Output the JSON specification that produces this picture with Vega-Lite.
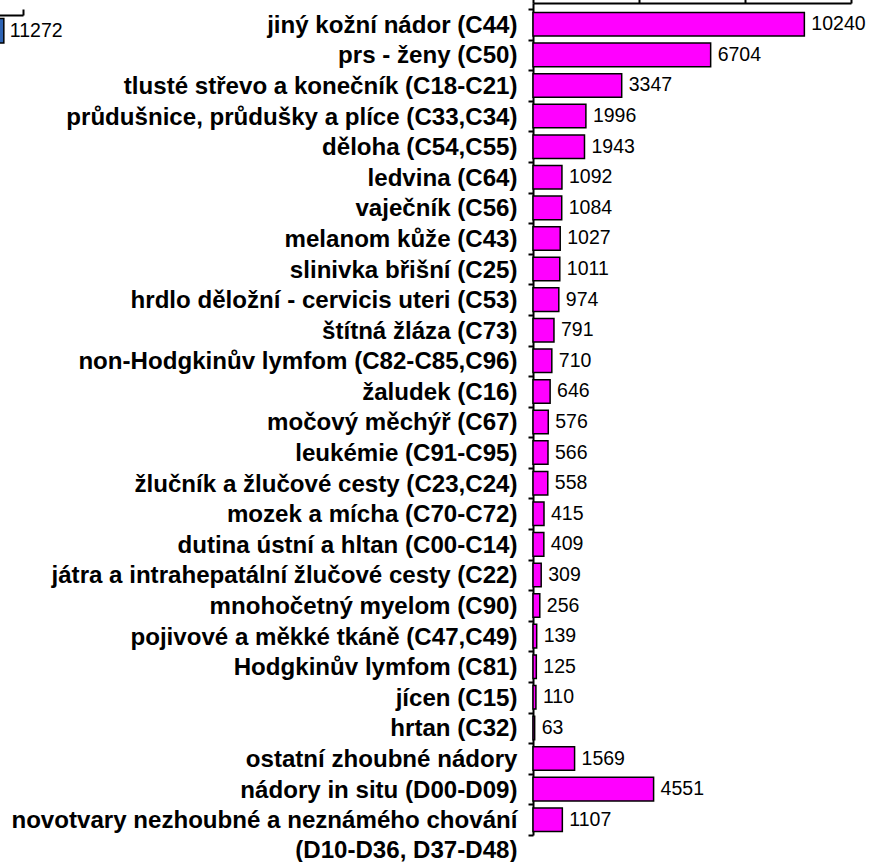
{
  "$schema": "https://vega.github.io/schema/vega-lite/v6.json",
  "autosize": {"type": "none"},
  "padding": {"left": 533, "top": 3, "right": 18, "bottom": 27},
  "width": 318,
  "height": 832,
  "background": "white",
  "config": {"view": {"stroke": null}, "font": "Liberation Sans"},
  "encoding": {
    "y": {
      "field": "label",
      "type": "nominal",
      "sort": null,
      "scale": {"paddingInner": 0, "paddingOuter": 0.098, "align": 1},
      "axis": {
        "title": null,
        "grid": false,
        "domainColor": "#000000",
        "domainWidth": 2,
        "tickColor": "#000000",
        "tickWidth": 2,
        "tickSize": 5,
        "tickBand": "extent",
        "labelFont": "Liberation Sans",
        "labelFontWeight": "bold",
        "labelFontSize": 24.1,
        "labelColor": "#000000",
        "labelPadding": 11,
        "labelLimit": 0,
        "labelOverlap": false,
        "labelBaseline": "top",
        "labelOffset": -11,
        "labelLineHeight": 30,
        "labelExpr": "isValid(datum.value) ? split(datum.value, '|') : ''"
      }
    }
  },
  "layer": [
    {
      "data": {
        "values": [
          {"label": "jiný kožní nádor (C44)", "value": 10240},
          {"label": "prs - ženy (C50)", "value": 6704},
          {"label": "tlusté střevo a konečník (C18-C21)", "value": 3347},
          {"label": "průdušnice, průdušky a plíce (C33,C34)", "value": 1996},
          {"label": "děloha (C54,C55)", "value": 1943},
          {"label": "ledvina (C64)", "value": 1092},
          {"label": "vaječník (C56)", "value": 1084},
          {"label": "melanom kůže (C43)", "value": 1027},
          {"label": "slinivka břišní (C25)", "value": 1011},
          {"label": "hrdlo děložní - cervicis uteri (C53)", "value": 974},
          {"label": "štítná žláza (C73)", "value": 791},
          {"label": "non-Hodgkinův lymfom (C82-C85,C96)", "value": 710},
          {"label": "žaludek (C16)", "value": 646},
          {"label": "močový měchýř (C67)", "value": 576},
          {"label": "leukémie (C91-C95)", "value": 566},
          {"label": "žlučník a žlučové cesty (C23,C24)", "value": 558},
          {"label": "mozek a mícha (C70-C72)", "value": 415},
          {"label": "dutina ústní a hltan (C00-C14)", "value": 409},
          {"label": "játra a intrahepatální žlučové cesty (C22)", "value": 309},
          {"label": "mnohočetný myelom (C90)", "value": 256},
          {"label": "pojivové a měkké tkáně (C47,C49)", "value": 139},
          {"label": "Hodgkinův lymfom (C81)", "value": 125},
          {"label": "jícen (C15)", "value": 110},
          {"label": "hrtan (C32)", "value": 63},
          {"label": "ostatní zhoubné nádory", "value": 1569},
          {"label": "nádory in situ (D00-D09)", "value": 4551},
          {"label": "novotvary nezhoubné a neznámého chování|(D10-D36, D37-D48)", "value": 1107}
        ]
      },
      "encoding": {
        "x": {
          "field": "value",
          "type": "quantitative",
          "scale": {"domain": [0, 12000], "nice": false},
          "axis": {
            "orient": "top",
            "title": null,
            "grid": false,
            "labels": false,
            "values": [0, 4000, 8000, 12000],
            "domainColor": "#000000",
            "domainWidth": 2,
            "tickColor": "#000000",
            "tickWidth": 2,
            "tickSize": 4
          }
        }
      },
      "layer": [
        {
          "mark": {"type": "bar", "fill": "#FF00FF", "stroke": "#000000", "strokeWidth": 1.5, "height": {"band": 0.77}}
        },
        {
          "mark": {"type": "text", "align": "left", "baseline": "middle", "dx": 7, "fontSize": 19.5, "font": "Liberation Sans", "color": "#000000"},
          "encoding": {"text": {"field": "value", "type": "quantitative", "format": "d"}}
        }
      ]
    },
    {
      "data": {"values": [{"label": "jiný kožní nádor (C44)", "value": 11272}]},
      "encoding": {
        "x": {
          "field": "value",
          "type": "quantitative",
          "scale": {"domain": [0, 12000], "nice": false, "range": [-826, -510]},
          "axis": {
            "orient": "top",
            "offset": -12,
            "title": null,
            "grid": false,
            "labels": false,
            "values": [0, 4000, 8000, 12000],
            "domainColor": "#000000",
            "domainWidth": 2,
            "tickColor": "#000000",
            "tickWidth": 2,
            "tickSize": 6
          }
        }
      },
      "layer": [
        {
          "mark": {"type": "bar", "fill": "#2E64B4", "stroke": "#000000", "strokeWidth": 1.5, "height": {"band": 0.8}, "yOffset": 6.5}
        },
        {
          "mark": {"type": "text", "align": "left", "baseline": "middle", "dx": 6, "yOffset": 7, "fontSize": 19.5, "font": "Liberation Sans", "color": "#000000"},
          "encoding": {"text": {"field": "value", "type": "quantitative", "format": "d"}}
        }
      ]
    }
  ],
  "resolve": {"scale": {"x": "independent"}, "axis": {"x": "independent"}}
}
